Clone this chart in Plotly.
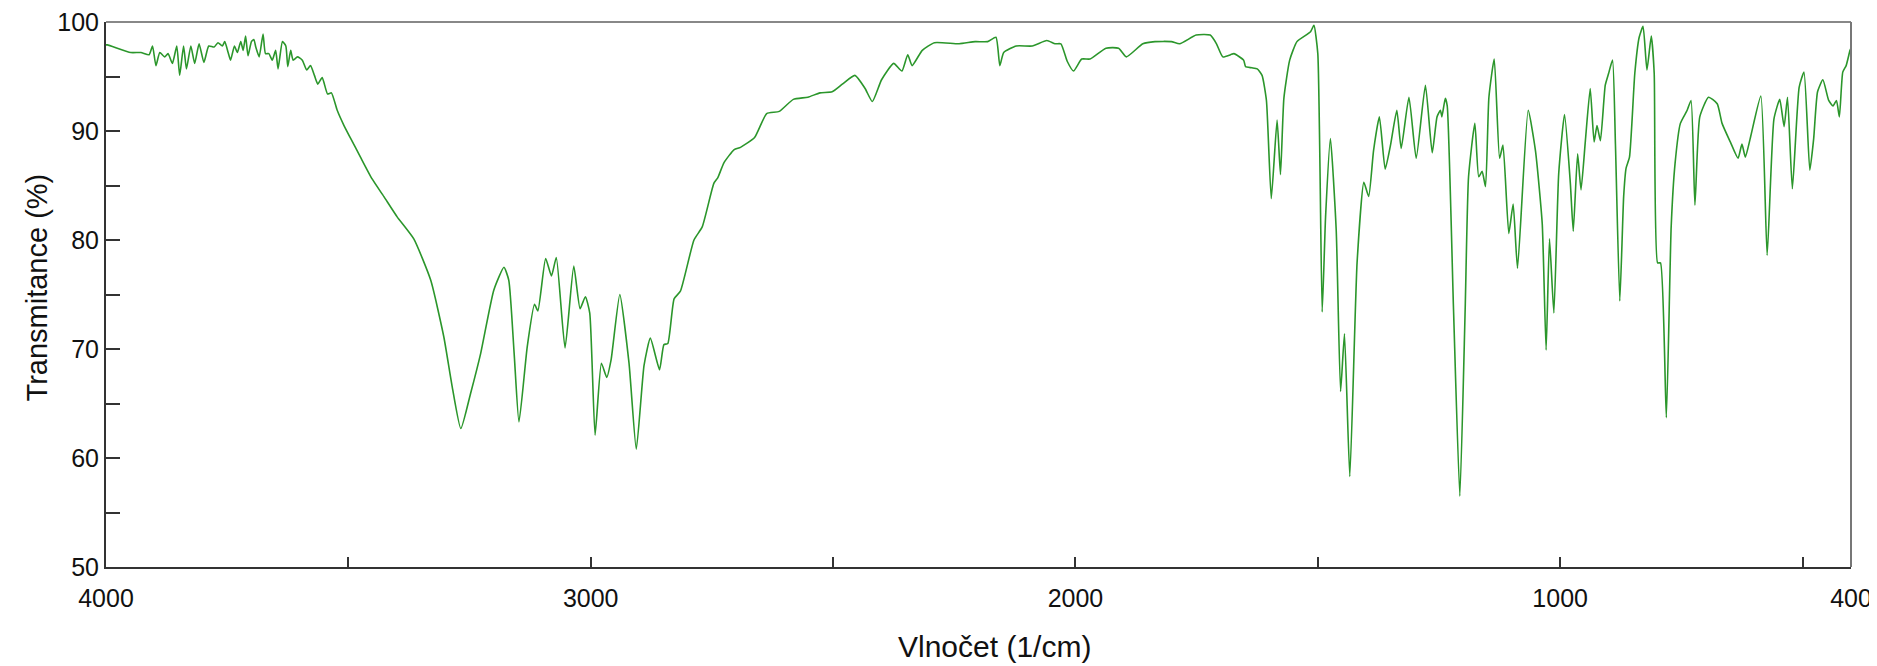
import plotly.graph_objects as go

wavenumber = [
    4000, 3997, 3949, 3928, 3911, 3904, 3897, 3889, 3879, 3872, 3863, 3854, 3848, 3840, 3834,
    3825, 3817, 3808, 3798, 3788, 3777, 3769, 3760, 3755, 3748, 3743, 3735, 3729, 3722, 3717,
    3712, 3707, 3700, 3695, 3691, 3684, 3676, 3671, 3664, 3657, 3650, 3645, 3636, 3629, 3625,
    3619, 3614, 3605, 3595, 3586, 3578, 3570, 3563, 3554, 3543, 3535, 3523, 3509, 3495, 3475,
    3451, 3427, 3399, 3365, 3330, 3303, 3286, 3268, 3248, 3227, 3200, 3179, 3169, 3158, 3148,
    3131, 3116, 3109, 3093, 3081, 3071, 3053, 3035, 3022, 3011, 3002, 2991, 2978, 2967, 2958,
    2940, 2921, 2906, 2890, 2877, 2858, 2849, 2841, 2828, 2815, 2787, 2770, 2746, 2738, 2725,
    2704, 2691, 2662, 2637, 2611, 2582, 2552, 2527, 2502, 2481, 2455, 2434, 2419, 2400, 2375,
    2358, 2346, 2337, 2316, 2291, 2240, 2207, 2181, 2164, 2156, 2148, 2122, 2089, 2059, 2042,
    2030, 2017, 2004, 1987, 1970, 1937, 1911, 1895, 1861, 1836, 1802, 1785, 1751, 1722, 1709,
    1696, 1680, 1673, 1653, 1649, 1636, 1625, 1615, 1606, 1596, 1584, 1577, 1570, 1558, 1543,
    1515, 1508, 1500, 1491, 1484, 1474, 1462, 1453, 1445, 1434, 1419, 1405, 1395, 1385, 1373,
    1361, 1350, 1337, 1328, 1312, 1297, 1278, 1264, 1254, 1247, 1244, 1237, 1233, 1220, 1207,
    1196, 1189, 1176, 1168, 1161, 1154, 1147, 1136, 1125, 1118, 1106, 1097, 1088, 1066, 1051,
    1037, 1029, 1022, 1013, 1003, 991, 979, 973, 964, 957, 948, 938, 930, 924, 917,
    907, 900, 892, 886, 877, 869, 864, 857, 846, 837, 829, 821, 812, 806, 799,
    793, 781, 771, 763, 752, 738, 730, 722, 712, 694, 676, 666, 649, 633, 625,
    618, 608, 586, 573, 559, 547, 538, 531, 521, 507, 497, 485, 477, 469, 458,
    446, 437, 430, 424, 417, 410, 402, 400,
]

transmittance = [
    97.9, 97.9, 97.2, 97.2, 97.0, 97.8, 96.0, 97.2, 96.8, 97.1, 96.2, 97.8, 95.1, 97.8, 95.7,
    97.8, 96.2, 98.0, 96.3, 97.8, 97.7, 98.1, 97.8, 98.2, 97.2, 96.5, 97.8, 97.2, 98.2, 97.4,
    98.7, 96.9, 98.2, 98.4, 97.7, 96.8, 98.9, 97.1, 97.1, 96.5, 97.4, 95.7, 98.2, 97.8, 95.9,
    97.4, 96.5, 96.8, 96.5, 95.6, 96.0, 95.1, 94.3, 94.9, 93.4, 93.5, 91.9, 90.5, 89.3, 87.6,
    85.6, 84.0, 82.1, 80.1, 76.3, 71.1, 66.6, 62.7, 65.9, 69.6, 75.4, 77.5, 76.3, 69.6, 63.3,
    70.2, 74.1, 73.5, 78.3, 76.7, 78.4, 70.1, 77.6, 73.7, 74.8, 73.3, 62.1, 68.7, 67.4, 69.0,
    75.0, 68.7, 60.8, 68.5, 71.0, 68.1, 70.4, 70.5, 74.6, 75.3, 80.0, 81.2, 85.2, 85.7, 87.1,
    88.3, 88.5, 89.4, 91.6, 91.8, 92.9, 93.1, 93.5, 93.6, 94.3, 95.1, 93.9, 92.7, 94.7, 96.2,
    95.5, 97.0, 96.0, 97.4, 98.1, 98.0, 98.2, 98.2, 98.6, 96.0, 97.2, 97.8, 97.8, 98.3, 98.0,
    98.0, 96.4, 95.5, 96.6, 96.6, 97.6, 97.6, 96.8, 98.0, 98.2, 98.2, 98.0, 98.8, 98.8, 98.0,
    96.8, 97.0, 97.1, 96.5, 95.9, 95.8, 95.7, 95.1, 92.8, 83.8, 91.0, 86.0, 93.0, 96.5, 98.2,
    99.1, 99.7, 97.1, 73.4, 82.1, 89.3, 80.9, 66.1, 71.4, 58.3, 77.9, 85.3, 84.0, 88.2, 91.3,
    86.5, 88.7, 91.9, 88.4, 93.1, 87.5, 94.2, 88.0, 91.3, 91.9, 91.3, 93.0, 92.3, 73.6, 56.5,
    73.6, 85.8, 90.7, 85.8, 86.3, 84.9, 93.1, 96.6, 87.5, 88.7, 80.6, 83.3, 77.4, 91.9, 88.2,
    81.5, 69.9, 80.1, 73.3, 86.1, 91.5, 85.2, 80.8, 87.9, 84.6, 89.1, 93.9, 89.0, 90.5, 89.1,
    94.2, 95.3, 96.5, 88.8, 74.4, 84.0, 86.6, 87.6, 95.3, 98.6, 99.6, 95.6, 98.7, 95.3, 77.9,
    77.9, 63.7, 81.2, 87.0, 90.7, 91.9, 92.8, 83.2, 91.3, 93.1, 92.5, 90.7, 89.0, 87.5, 88.8,
    87.6, 89.3, 93.2, 78.6, 91.1, 92.9, 90.4, 93.1, 84.7, 94.0, 95.4, 86.4, 89.3, 93.6, 94.7,
    92.8, 92.3, 92.8, 91.3, 95.4, 96.0, 97.4, 97.6,
]

x_tick_vals = [4000, 3500, 3000, 2500, 2000, 1500, 1000, 500, 400]
x_tick_text = ["4000", "", "3000", "", "2000", "", "1000", "", "400"]
y_tick_vals = [50, 55, 60, 65, 70, 75, 80, 85, 90, 95, 100]
y_tick_text = ["50", "", "60", "", "70", "", "80", "", "90", "", "100"]

x_title = "Vlnočet (1/cm)"
y_title = "Transmitance (%)"

font_family = "Liberation Sans, Arial, sans-serif"

fig = go.Figure()
fig.add_trace(go.Scatter(
    x=wavenumber, y=transmittance, mode="lines",
    line=dict(color="#2b962b", width=1.6, shape="spline", smoothing=0.5),
    showlegend=False, hoverinfo="x+y",
))

# The page body adds an 8px offset; the figure is sized so the plot area lands where the reference has it.
fig.update_layout(
    width=1869, height=658,
    margin=dict(l=98, r=26, t=14, b=99, autoexpand=False),
    paper_bgcolor="white", plot_bgcolor="white",
    font=dict(family=font_family, color="#111", size=25),
    xaxis=dict(
        range=[4000, 400], autorange=False, automargin=False,
        tickvals=x_tick_vals, ticktext=x_tick_text,
        ticks="inside", ticklen=10, tickwidth=2, tickcolor="#333",
        ticklabelstandoff=8, ticklabeloverflow="allow",
        showline=True, linecolor="#333", linewidth=2, mirror=False,
        showgrid=False, zeroline=False,
        tickfont=dict(size=25, color="#111"),
    ),
    yaxis=dict(
        range=[50, 100], autorange=False, automargin=False,
        tickvals=y_tick_vals, ticktext=y_tick_text,
        ticks="inside", ticklen=14, tickwidth=2, tickcolor="#333",
        ticklabeloverflow="allow",
        showline=True, linecolor="#333", linewidth=2, mirror=False,
        showgrid=False, zeroline=False,
        tickfont=dict(size=25, color="#111"),
    ),
    shapes=[
        dict(type="line", xref="paper", yref="paper", x0=0, x1=1, y0=1, y1=1,
             line=dict(color="#888", width=2)),
        dict(type="line", xref="paper", yref="paper", x0=1, x1=1, y0=0, y1=1,
             line=dict(color="#777", width=2)),
    ],
    annotations=[
        dict(text=x_title, xref="paper", yref="paper", x=0.5, y=0,
             xanchor="center", yanchor="middle", xshift=16, yshift=-79,
             showarrow=False, font=dict(size=30, color="#111", family=font_family)),
        dict(text=y_title, xref="paper", yref="paper", x=0, y=0.5,
             xanchor="center", yanchor="middle", xshift=-70, yshift=7,
             textangle=-90, showarrow=False,
             font=dict(size=29, color="#111", family=font_family)),
    ],
)

fig.write_html("out.html")
